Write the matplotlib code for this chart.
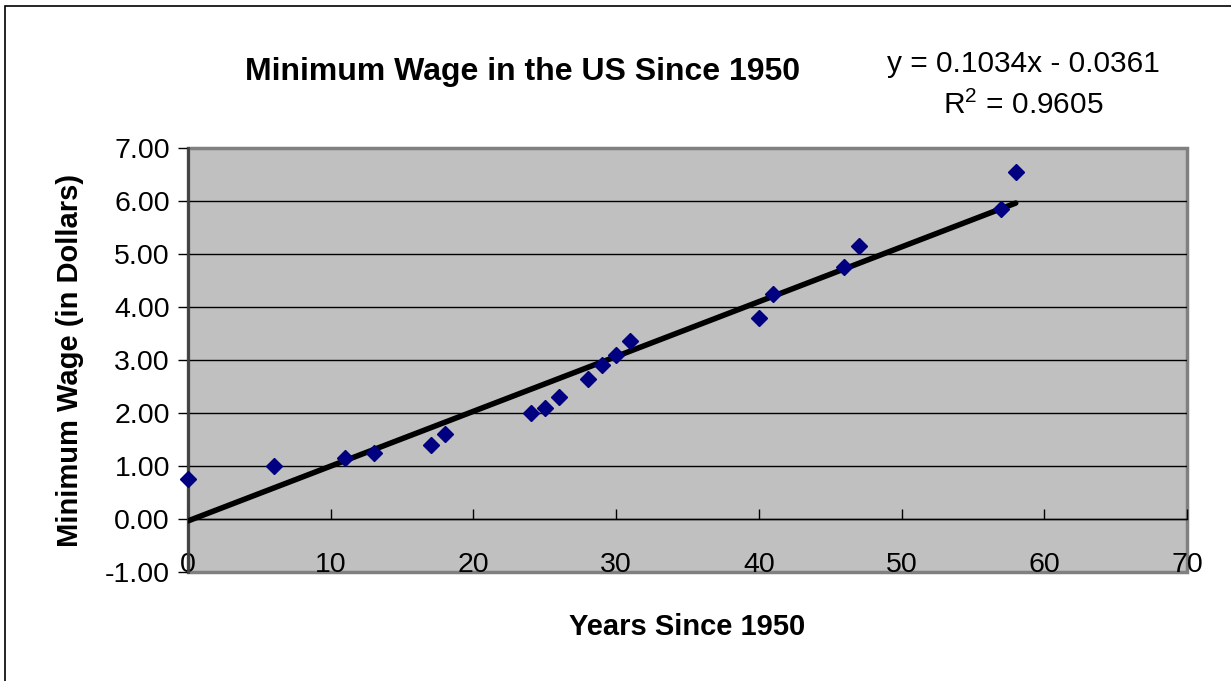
import matplotlib.pyplot as plt
import matplotlib.patches as mpatches
import numpy as np

plt.rcParams["font.family"] = ["Liberation Sans", "DejaVu Sans"]

# years since 1950 and federal minimum wage (dollars)
years = [0, 6, 11, 13, 17, 18, 24, 25, 26, 28, 29, 30, 31, 40, 41, 46, 47, 57, 58]
wage = [0.75, 1.00, 1.15, 1.25, 1.40, 1.60, 2.00, 2.10, 2.30, 2.65, 2.90, 3.10,
        3.35, 3.80, 4.25, 4.75, 5.15, 5.85, 6.55]

# linear trendline as reported on the chart
slope = 0.1034
intercept = -0.0361
r_squared = 0.9605

x_ticks = [0, 10, 20, 30, 40, 50, 60, 70]
y_ticks = [-1, 0, 1, 2, 3, 4, 5, 6, 7]

fig = plt.figure(figsize=(12.31, 6.81), dpi=100)
ax = fig.add_axes([188 / 1231, 1 - 572 / 681, 999 / 1231, 424 / 681])

# chart frame around whole figure (Excel style)
fig.patches.append(mpatches.Rectangle((5 / 1231, -0.1), 1.2, 1 - 6 / 681 + 0.1,
                                      transform=fig.transFigure, fill=False,
                                      edgecolor="black", lw=1.2))

ax.set_facecolor("#c0c0c0")
ax.patch.set_edgecolor("#808080")
ax.patch.set_linewidth(2.5)

ax.set_xlim(0, 70)
ax.set_ylim(-1, 7)

ax.set_yticks(y_ticks)
ax.set_yticklabels(["{:.2f}".format(v) for v in y_ticks])
ax.set_xticks(x_ticks)
ax.set_xticklabels([str(v) for v in x_ticks])

for yv in y_ticks[1:-1]:
    ax.axhline(yv, color="black", lw=1.0, zorder=1)

ax.spines["top"].set_visible(False)
ax.spines["right"].set_visible(False)
ax.spines["left"].set_color("#404040")
ax.spines["left"].set_linewidth(2.0)
ax.spines["bottom"].set_position(("data", 0))
ax.spines["bottom"].set_color("black")
ax.spines["bottom"].set_linewidth(1.0)

ax.tick_params(axis="y", direction="out", length=7, width=1, labelsize=20.5, pad=6)
ax.tick_params(axis="x", direction="in", length=7, width=1, labelsize=20.5, pad=24)

xs = np.array([min(years), max(years)])
ax.plot(xs, slope * xs + intercept, color="black", lw=4.0, zorder=3,
        solid_capstyle="round")
ax.plot(years, wage, linestyle="none", marker="D", markersize=8,
        color="#000080", zorder=4, clip_on=False)

ax.set_ylabel("Minimum Wage (in Dollars)", fontsize=21, fontweight="bold", labelpad=15)
ax.set_xlabel("Years Since 1950", fontsize=21, fontweight="bold", labelpad=25)

fig.text(523 / 1231, 1 - 72 / 681, "Minimum Wage in the US Since 1950",
         ha="center", va="center", fontsize=23, fontweight="bold")
fig.text(1023 / 1231, 1 - 64 / 681,
         "y = {:.4f}x - {:.4f}".format(slope, abs(intercept)),
         ha="center", va="center", fontsize=21.5)
fig.text(1023 / 1231, 1 - 105 / 681,
         r"R$^{\mathregular{2}}$ = " + "{:.4f}".format(r_squared),
         ha="center", va="center", fontsize=21.5)

plt.savefig("out.png", dpi=100)
